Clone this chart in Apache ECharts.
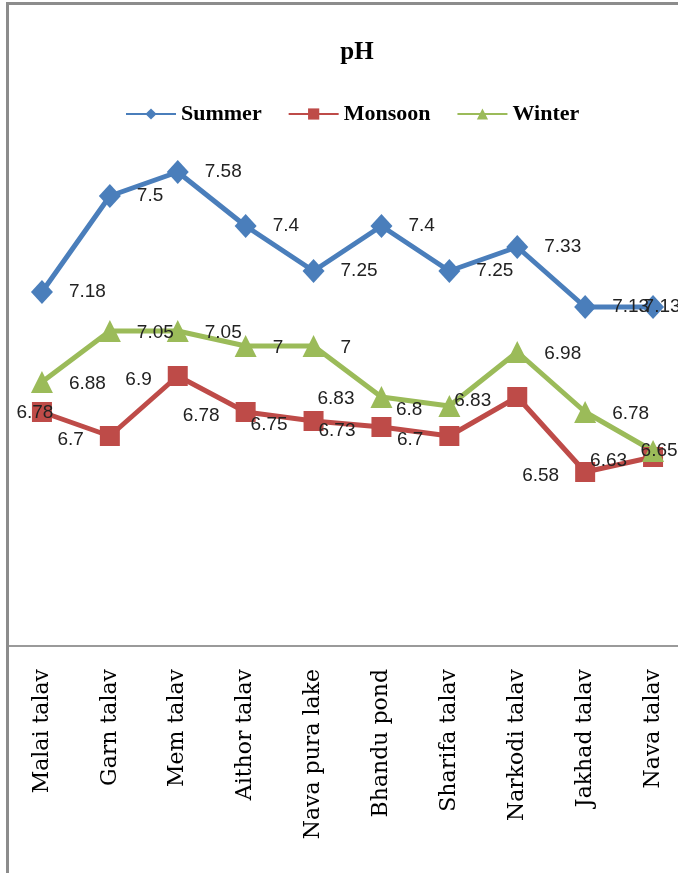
<!DOCTYPE html>
<html>
<head>
<meta charset="utf-8">
<script src="https://cdn.jsdelivr.net/npm/echarts@6/dist/echarts.min.js"></script>
<style>
html,body{margin:0;padding:0;background:#fff;overflow:hidden;width:678px;height:873px;}
#chart{width:700px;height:873px;}
</style>
</head>
<body>
<div id="chart"></div>
<script>
const categories = ["Malai talav","Garn talav","Mem talav","Aithor talav","Nava pura lake","Bhandu pond","Sharifa talav","Narkodi talav","Jakhad talav","Nava talav"];
const summer  = [7.18, 7.5, 7.58, 7.4, 7.25, 7.4, 7.25, 7.33, 7.13, 7.13];
const monsoon = [6.78, 6.7, 6.9, 6.78, 6.75, 6.73, 6.7, 6.83, 6.58, 6.63];
const winter  = [6.88, 7.05, 7.05, 7, 7, 6.83, 6.8, 6.98, 6.78, 6.65];
const seriesNames = ["Summer","Monsoon","Winter"];

const labelFont = {fontFamily:'Liberation Sans', fontSize:19, color:'#222'};

function buildData(values, defaultPos, overrides, defOffset){
  return values.map((v,i)=>{
    const o = overrides[i];
    const lab = Object.assign({}, labelFont, {show:true, position: defaultPos, distance:16, offset: defOffset||[0,0]});
    if (o) Object.assign(lab, o);
    return {value: v, label: lab};
  });
}

const chart = echarts.init(document.getElementById('chart'));
chart.setOption({
  animation:false,
  backgroundColor:'#fff',
  title:{
    text:'pH', left:352, top:35, textAlign:'center',
    textStyle:{fontFamily:'Liberation Serif', fontWeight:'bold', fontSize:25, color:'#000'}
  },
  legend:{
    left:120, top:98, itemWidth:50, itemHeight:14, itemGap:26,
    textStyle:{fontFamily:'Liberation Serif', fontWeight:'bold', fontSize:22, color:'#000'},
    data: seriesNames
  },
  grid:{left:8, width:679, top:46, height:600, containLabel:false},
  xAxis:{
    type:'category', data:categories, boundaryGap:true,
    axisLine:{show:true, lineStyle:{color:'#9a9a9a', width:2}},
    axisTick:{show:false},
    axisLabel:{interval:0, rotate:90, margin:23, fontFamily:'DejaVu Serif', fontSize:22, color:'#000'}
  },
  yAxis:{
    type:'value', min:6, max:8, show:false, splitLine:{show:false}
  },
  graphic:[{
    type:'rect', shape:{x:7.5, y:3.5, width:740, height:920},
    style:{fill:'none', stroke:'#8c8c8c', lineWidth:3}, silent:true, z:100
  }],
  series:[
    {
      name:'Summer', type:'line', color:'#4A7EBB', symbol:'diamond', symbolSize:[22,24],
      lineStyle:{width:5}, clip:false,
      data: buildData(summer, 'right', {9:{position:'inside', offset:[9,0]}})
    },
    {
      name:'Monsoon', type:'line', color:'#BE4B48', symbol:'rect', symbolSize:20,
      lineStyle:{width:5}, clip:false,
      data: buildData(monsoon, 'left', {0:{position:'inside', offset:[-7,1]}}, [0,4])
    },
    {
      name:'Winter', type:'line', color:'#9BBB59', symbol:'triangle', symbolSize:[22,22],
      lineStyle:{width:5}, clip:false,
      data: buildData(winter, 'right', {5:{position:'left'}, 6:{position:'left', offset:[0,4]}, 9:{position:'inside', offset:[6,0]}}, [0,2])
    }
  ]
});
</script>
</body>
</html>
